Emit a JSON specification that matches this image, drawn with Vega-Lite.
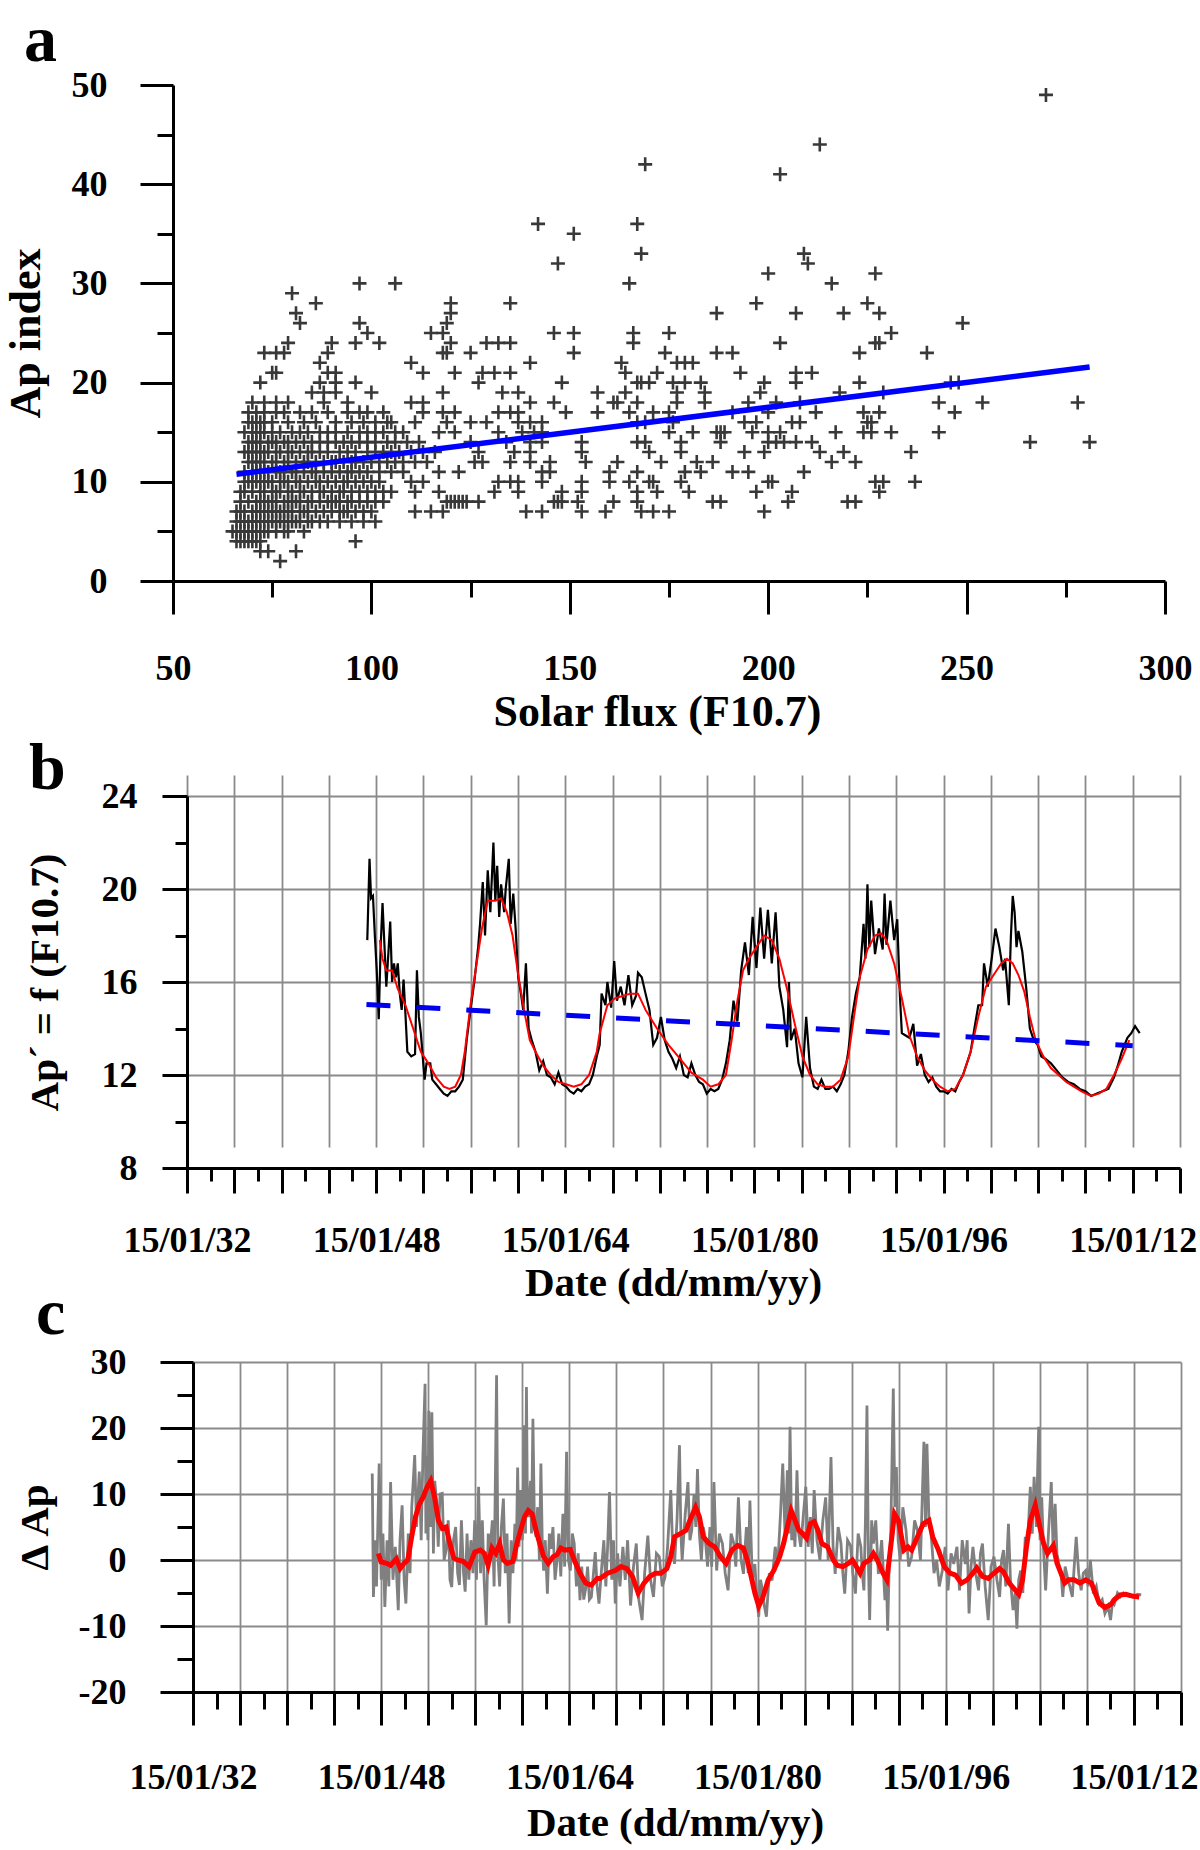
{
"$schema": "https://vega.github.io/schema/vega-lite/v6.json",
"autosize": {"type": "none"},
"padding": {"left": 173, "top": 85, "right": 1027, "bottom": 1765},
"background": "white",
"config": {
 "view": {"stroke": null},
 "font": "Liberation Serif",
 "axis": {"labelFont": "Liberation Serif", "labelFontWeight": "bold", "labelFontSize": 36, "labelColor": "black", "titleFont": "Liberation Serif", "titleFontWeight": "bold", "titleColor": "black", "domainColor": "black", "domainWidth": 3, "tickColor": "black", "tickWidth": 3, "gridColor": "#8a8a8a", "gridWidth": 1.8, "gridOpacity": 1, "labelFlush": false, "labelOverlap": false},
 "title": {"font": "Liberation Serif", "fontWeight": "bold", "color": "black"}
},
"datasets": {
 "scatter": [
{"f":77,"ap":2},
{"f":72,"ap":3},{"f":74,"ap":3},{"f":81,"ap":3},
{"f":66,"ap":4},{"f":67,"ap":4},{"f":68,"ap":4},{"f":69,"ap":4},{"f":70,"ap":4},{"f":71,"ap":4},{"f":72,"ap":4},{"f":96,"ap":4},
{"f":65,"ap":5},{"f":66,"ap":5},{"f":67,"ap":5},{"f":68,"ap":5},{"f":69,"ap":5},{"f":70,"ap":5},{"f":71,"ap":5},{"f":72,"ap":5},{"f":73,"ap":5},{"f":74,"ap":5},{"f":76,"ap":5},{"f":78,"ap":5},{"f":79,"ap":5},{"f":83,"ap":5},
{"f":66,"ap":6},{"f":67,"ap":6},{"f":68,"ap":6},{"f":69,"ap":6},{"f":70,"ap":6},{"f":71,"ap":6},{"f":72,"ap":6},{"f":73,"ap":6},{"f":74,"ap":6},{"f":75,"ap":6},{"f":76,"ap":6},{"f":77,"ap":6},{"f":78,"ap":6},{"f":79,"ap":6},{"f":80,"ap":6},{"f":81,"ap":6},{"f":82,"ap":6},{"f":84,"ap":6},{"f":85,"ap":6},{"f":87,"ap":6},{"f":89,"ap":6},{"f":92,"ap":6},{"f":95,"ap":6},{"f":98,"ap":6},{"f":101,"ap":6},
{"f":66,"ap":7},{"f":67,"ap":7},{"f":68,"ap":7},{"f":70,"ap":7},{"f":71,"ap":7},{"f":72,"ap":7},{"f":73,"ap":7},{"f":74,"ap":7},{"f":75,"ap":7},{"f":76,"ap":7},{"f":77,"ap":7},{"f":78,"ap":7},{"f":79,"ap":7},{"f":80,"ap":7},{"f":82,"ap":7},{"f":83,"ap":7},{"f":84,"ap":7},{"f":86,"ap":7},{"f":88,"ap":7},{"f":90,"ap":7},{"f":92,"ap":7},{"f":93,"ap":7},{"f":94,"ap":7},{"f":96,"ap":7},{"f":98,"ap":7},{"f":100,"ap":7},{"f":111,"ap":7},{"f":115,"ap":7},{"f":118,"ap":7},{"f":139,"ap":7},{"f":143,"ap":7},{"f":153,"ap":7},{"f":159,"ap":7},{"f":168,"ap":7},{"f":171,"ap":7},{"f":175,"ap":7},{"f":199,"ap":7},
{"f":67,"ap":8},{"f":69,"ap":8},{"f":71,"ap":8},{"f":72,"ap":8},{"f":73,"ap":8},{"f":74,"ap":8},{"f":75,"ap":8},{"f":76,"ap":8},{"f":78,"ap":8},{"f":79,"ap":8},{"f":80,"ap":8},{"f":81,"ap":8},{"f":82,"ap":8},{"f":84,"ap":8},{"f":85,"ap":8},{"f":87,"ap":8},{"f":89,"ap":8},{"f":90,"ap":8},{"f":91,"ap":8},{"f":92,"ap":8},{"f":94,"ap":8},{"f":95,"ap":8},{"f":97,"ap":8},{"f":99,"ap":8},{"f":101,"ap":8},{"f":103,"ap":8},{"f":119,"ap":8},{"f":120,"ap":8},{"f":121,"ap":8},{"f":122,"ap":8},{"f":123,"ap":8},{"f":124,"ap":8},{"f":127,"ap":8},{"f":146,"ap":8},{"f":147,"ap":8},{"f":148,"ap":8},{"f":152,"ap":8},{"f":161,"ap":8},{"f":167,"ap":8},{"f":186,"ap":8},{"f":188,"ap":8},{"f":205,"ap":8},{"f":220,"ap":8},{"f":222,"ap":8},
{"f":67,"ap":9},{"f":68,"ap":9},{"f":70,"ap":9},{"f":72,"ap":9},{"f":73,"ap":9},{"f":75,"ap":9},{"f":76,"ap":9},{"f":77,"ap":9},{"f":79,"ap":9},{"f":80,"ap":9},{"f":82,"ap":9},{"f":83,"ap":9},{"f":85,"ap":9},{"f":87,"ap":9},{"f":88,"ap":9},{"f":90,"ap":9},{"f":92,"ap":9},{"f":93,"ap":9},{"f":95,"ap":9},{"f":97,"ap":9},{"f":99,"ap":9},{"f":101,"ap":9},{"f":103,"ap":9},{"f":105,"ap":9},{"f":111,"ap":9},{"f":117,"ap":9},{"f":131,"ap":9},{"f":137,"ap":9},{"f":148,"ap":9},{"f":153,"ap":9},{"f":167,"ap":9},{"f":172,"ap":9},{"f":180,"ap":9},{"f":197,"ap":9},{"f":206,"ap":9},{"f":228,"ap":9},
{"f":68,"ap":10},{"f":69,"ap":10},{"f":70,"ap":10},{"f":71,"ap":10},{"f":72,"ap":10},{"f":73,"ap":10},{"f":74,"ap":10},{"f":75,"ap":10},{"f":77,"ap":10},{"f":78,"ap":10},{"f":79,"ap":10},{"f":81,"ap":10},{"f":82,"ap":10},{"f":84,"ap":10},{"f":86,"ap":10},{"f":87,"ap":10},{"f":89,"ap":10},{"f":91,"ap":10},{"f":93,"ap":10},{"f":94,"ap":10},{"f":96,"ap":10},{"f":98,"ap":10},{"f":100,"ap":10},{"f":102,"ap":10},{"f":110,"ap":10},{"f":113,"ap":10},{"f":132,"ap":10},{"f":135,"ap":10},{"f":137,"ap":10},{"f":143,"ap":10},{"f":153,"ap":10},{"f":160,"ap":10},{"f":165,"ap":10},{"f":170,"ap":10},{"f":171,"ap":10},{"f":178,"ap":10},{"f":200,"ap":10},{"f":201,"ap":10},{"f":227,"ap":10},{"f":229,"ap":10},{"f":237,"ap":10},
{"f":68,"ap":11},{"f":70,"ap":11},{"f":71,"ap":11},{"f":72,"ap":11},{"f":73,"ap":11},{"f":74,"ap":11},{"f":76,"ap":11},{"f":77,"ap":11},{"f":78,"ap":11},{"f":80,"ap":11},{"f":81,"ap":11},{"f":83,"ap":11},{"f":85,"ap":11},{"f":86,"ap":11},{"f":88,"ap":11},{"f":90,"ap":11},{"f":92,"ap":11},{"f":94,"ap":11},{"f":95,"ap":11},{"f":97,"ap":11},{"f":99,"ap":11},{"f":102,"ap":11},{"f":105,"ap":11},{"f":108,"ap":11},{"f":117,"ap":11},{"f":122,"ap":11},{"f":143,"ap":11},{"f":145,"ap":11},{"f":160,"ap":11},{"f":167,"ap":11},{"f":179,"ap":11},{"f":183,"ap":11},{"f":191,"ap":11},{"f":195,"ap":11},{"f":209,"ap":11},
{"f":69,"ap":12},{"f":70,"ap":12},{"f":71,"ap":12},{"f":72,"ap":12},{"f":73,"ap":12},{"f":75,"ap":12},{"f":76,"ap":12},{"f":78,"ap":12},{"f":79,"ap":12},{"f":81,"ap":12},{"f":83,"ap":12},{"f":84,"ap":12},{"f":86,"ap":12},{"f":88,"ap":12},{"f":90,"ap":12},{"f":91,"ap":12},{"f":93,"ap":12},{"f":95,"ap":12},{"f":96,"ap":12},{"f":98,"ap":12},{"f":100,"ap":12},{"f":102,"ap":12},{"f":104,"ap":12},{"f":106,"ap":12},{"f":108,"ap":12},{"f":111,"ap":12},{"f":114,"ap":12},{"f":126,"ap":12},{"f":128,"ap":12},{"f":135,"ap":12},{"f":140,"ap":12},{"f":145,"ap":12},{"f":154,"ap":12},{"f":162,"ap":12},{"f":173,"ap":12},{"f":182,"ap":12},{"f":186,"ap":12},{"f":216,"ap":12},{"f":222,"ap":12},
{"f":68,"ap":13},{"f":69,"ap":13},{"f":70,"ap":13},{"f":71,"ap":13},{"f":72,"ap":13},{"f":73,"ap":13},{"f":74,"ap":13},{"f":76,"ap":13},{"f":77,"ap":13},{"f":79,"ap":13},{"f":80,"ap":13},{"f":82,"ap":13},{"f":84,"ap":13},{"f":85,"ap":13},{"f":87,"ap":13},{"f":89,"ap":13},{"f":92,"ap":13},{"f":94,"ap":13},{"f":96,"ap":13},{"f":99,"ap":13},{"f":101,"ap":13},{"f":103,"ap":13},{"f":105,"ap":13},{"f":107,"ap":13},{"f":110,"ap":13},{"f":113,"ap":13},{"f":116,"ap":13},{"f":127,"ap":13},{"f":136,"ap":13},{"f":140,"ap":13},{"f":153,"ap":13},{"f":170,"ap":13},{"f":178,"ap":13},{"f":194,"ap":13},{"f":199,"ap":13},{"f":213,"ap":13},{"f":219,"ap":13},{"f":236,"ap":13},
{"f":69,"ap":14},{"f":70,"ap":14},{"f":71,"ap":14},{"f":72,"ap":14},{"f":74,"ap":14},{"f":75,"ap":14},{"f":76,"ap":14},{"f":78,"ap":14},{"f":79,"ap":14},{"f":81,"ap":14},{"f":83,"ap":14},{"f":85,"ap":14},{"f":87,"ap":14},{"f":89,"ap":14},{"f":91,"ap":14},{"f":93,"ap":14},{"f":95,"ap":14},{"f":97,"ap":14},{"f":99,"ap":14},{"f":101,"ap":14},{"f":104,"ap":14},{"f":106,"ap":14},{"f":109,"ap":14},{"f":112,"ap":14},{"f":125,"ap":14},{"f":134,"ap":14},{"f":140,"ap":14},{"f":143,"ap":14},{"f":153,"ap":14},{"f":167,"ap":14},{"f":169,"ap":14},{"f":178,"ap":14},{"f":188,"ap":14},{"f":200,"ap":14},{"f":202,"ap":14},{"f":204,"ap":14},{"f":207,"ap":14},{"f":211,"ap":14},{"f":266,"ap":14},{"f":281,"ap":14},
{"f":68,"ap":15},{"f":70,"ap":15},{"f":71,"ap":15},{"f":72,"ap":15},{"f":73,"ap":15},{"f":75,"ap":15},{"f":77,"ap":15},{"f":80,"ap":15},{"f":82,"ap":15},{"f":84,"ap":15},{"f":87,"ap":15},{"f":89,"ap":15},{"f":91,"ap":15},{"f":94,"ap":15},{"f":97,"ap":15},{"f":99,"ap":15},{"f":101,"ap":15},{"f":103,"ap":15},{"f":106,"ap":15},{"f":108,"ap":15},{"f":117,"ap":15},{"f":121,"ap":15},{"f":132,"ap":15},{"f":138,"ap":15},{"f":141,"ap":15},{"f":143,"ap":15},{"f":175,"ap":15},{"f":181,"ap":15},{"f":187,"ap":15},{"f":188,"ap":15},{"f":189,"ap":15},{"f":196,"ap":15},{"f":200,"ap":15},{"f":203,"ap":15},{"f":217,"ap":15},{"f":224,"ap":15},{"f":226,"ap":15},{"f":231,"ap":15},{"f":243,"ap":15},
{"f":69,"ap":16},{"f":70,"ap":16},{"f":71,"ap":16},{"f":72,"ap":16},{"f":73,"ap":16},{"f":75,"ap":16},{"f":79,"ap":16},{"f":83,"ap":16},{"f":86,"ap":16},{"f":91,"ap":16},{"f":95,"ap":16},{"f":98,"ap":16},{"f":101,"ap":16},{"f":104,"ap":16},{"f":105,"ap":16},{"f":111,"ap":16},{"f":119,"ap":16},{"f":125,"ap":16},{"f":129,"ap":16},{"f":137,"ap":16},{"f":140,"ap":16},{"f":143,"ap":16},{"f":167,"ap":16},{"f":169,"ap":16},{"f":176,"ap":16},{"f":194,"ap":16},{"f":197,"ap":16},{"f":206,"ap":16},{"f":208,"ap":16},{"f":225,"ap":16},{"f":226,"ap":16},
{"f":69,"ap":17},{"f":71,"ap":17},{"f":73,"ap":17},{"f":76,"ap":17},{"f":78,"ap":17},{"f":82,"ap":17},{"f":85,"ap":17},{"f":89,"ap":17},{"f":94,"ap":17},{"f":97,"ap":17},{"f":99,"ap":17},{"f":103,"ap":17},{"f":113,"ap":17},{"f":118,"ap":17},{"f":121,"ap":17},{"f":132,"ap":17},{"f":135,"ap":17},{"f":137,"ap":17},{"f":149,"ap":17},{"f":157,"ap":17},{"f":165,"ap":17},{"f":171,"ap":17},{"f":175,"ap":17},{"f":191,"ap":17},{"f":200,"ap":17},{"f":212,"ap":17},{"f":224,"ap":17},{"f":228,"ap":17},{"f":247,"ap":17},
{"f":70,"ap":18},{"f":73,"ap":18},{"f":76,"ap":18},{"f":79,"ap":18},{"f":88,"ap":18},{"f":94,"ap":18},{"f":110,"ap":18},{"f":113,"ap":18},{"f":140,"ap":18},{"f":146,"ap":18},{"f":161,"ap":18},{"f":162,"ap":18},{"f":167,"ap":18},{"f":177,"ap":18},{"f":184,"ap":18},{"f":195,"ap":18},{"f":202,"ap":18},{"f":208,"ap":18},{"f":243,"ap":18},{"f":254,"ap":18},{"f":278,"ap":18},
{"f":85,"ap":19},{"f":88,"ap":19},{"f":91,"ap":19},{"f":100,"ap":19},{"f":118,"ap":19},{"f":133,"ap":19},{"f":137,"ap":19},{"f":157,"ap":19},{"f":164,"ap":19},{"f":177,"ap":19},{"f":184,"ap":19},{"f":198,"ap":19},{"f":218,"ap":19},{"f":229,"ap":19},
{"f":72,"ap":20},{"f":87,"ap":20},{"f":91,"ap":20},{"f":96,"ap":20},{"f":127,"ap":20},{"f":148,"ap":20},{"f":167,"ap":20},{"f":168,"ap":20},{"f":170,"ap":20},{"f":176,"ap":20},{"f":179,"ap":20},{"f":183,"ap":20},{"f":199,"ap":20},{"f":207,"ap":20},{"f":223,"ap":20},{"f":246,"ap":20},{"f":248,"ap":20},
{"f":75,"ap":21},{"f":76,"ap":21},{"f":89,"ap":21},{"f":91,"ap":21},{"f":113,"ap":21},{"f":121,"ap":21},{"f":128,"ap":21},{"f":131,"ap":21},{"f":135,"ap":21},{"f":164,"ap":21},{"f":172,"ap":21},{"f":193,"ap":21},{"f":207,"ap":21},{"f":211,"ap":21},
{"f":87,"ap":22},{"f":110,"ap":22},{"f":140,"ap":22},{"f":163,"ap":22},{"f":177,"ap":22},{"f":179,"ap":22},{"f":181,"ap":22},
{"f":73,"ap":23},{"f":76,"ap":23},{"f":78,"ap":23},{"f":89,"ap":23},{"f":118,"ap":23},{"f":119,"ap":23},{"f":125,"ap":23},{"f":151,"ap":23},{"f":174,"ap":23},{"f":187,"ap":23},{"f":191,"ap":23},{"f":223,"ap":23},{"f":240,"ap":23},
{"f":79,"ap":24},{"f":90,"ap":24},{"f":96,"ap":24},{"f":102,"ap":24},{"f":120,"ap":24},{"f":129,"ap":24},{"f":132,"ap":24},{"f":135,"ap":24},{"f":166,"ap":24},{"f":203,"ap":24},{"f":227,"ap":24},{"f":228,"ap":24},
{"f":99,"ap":25},{"f":115,"ap":25},{"f":118,"ap":25},{"f":146,"ap":25},{"f":151,"ap":25},{"f":166,"ap":25},{"f":175,"ap":25},{"f":231,"ap":25},
{"f":82,"ap":26},{"f":97,"ap":26},{"f":119,"ap":26},{"f":249,"ap":26},
{"f":81,"ap":27},{"f":120,"ap":27},{"f":187,"ap":27},{"f":207,"ap":27},{"f":219,"ap":27},{"f":228,"ap":27},
{"f":86,"ap":28},{"f":120,"ap":28},{"f":135,"ap":28},{"f":197,"ap":28},{"f":225,"ap":28},
{"f":80,"ap":29},
{"f":97,"ap":30},{"f":106,"ap":30},{"f":165,"ap":30},{"f":216,"ap":30},
{"f":200,"ap":31},{"f":227,"ap":31},
{"f":147,"ap":32},{"f":210,"ap":32},
{"f":168,"ap":33},{"f":209,"ap":33},
{"f":151,"ap":35},
{"f":142,"ap":36},{"f":167,"ap":36},
{"f":203,"ap":41},{"f":169,"ap":42},{"f":213,"ap":44},{"f":270,"ap":49}
 ],
 "fit": [{"f":66,"ap":10.76},{"f":281,"ap":21.58}],
 "bblack": [
{"yr":1947.25,"v":17.8},{"yr":1947.44,"v":21.3},{"yr":1947.57,"v":19.6},{"yr":1947.73,"v":19.7},{"yr":1947.89,"v":18.0},{"yr":1948.05,"v":16.5},{"yr":1948.22,"v":14.4},{"yr":1948.38,"v":17.5},{"yr":1948.54,"v":19.4},{"yr":1948.70,"v":17.6},{"yr":1948.86,"v":15.8},{"yr":1949.03,"v":17.2},{"yr":1949.19,"v":18.6},{"yr":1949.35,"v":16.0},{"yr":1949.51,"v":16.8},{"yr":1949.67,"v":16.2},{"yr":1949.83,"v":16.8},{"yr":1950.00,"v":15.5},{"yr":1950.16,"v":14.8},{"yr":1950.32,"v":16.1},{"yr":1950.48,"v":14.6},{"yr":1950.64,"v":13.0},{"yr":1950.97,"v":12.8},{"yr":1951.29,"v":12.9},{"yr":1951.45,"v":16.5},{"yr":1951.61,"v":14.5},{"yr":1951.78,"v":13.8},{"yr":1952.10,"v":11.8},{"yr":1952.26,"v":12.5},{"yr":1952.58,"v":12.5},{"yr":1952.75,"v":11.8},{"yr":1953.07,"v":11.6},{"yr":1953.39,"v":11.4},{"yr":1953.72,"v":11.2},{"yr":1954.04,"v":11.1},{"yr":1954.36,"v":11.3},{"yr":1954.69,"v":11.3},{"yr":1955.01,"v":11.5},{"yr":1955.33,"v":11.8},{"yr":1955.66,"v":13.5},{"yr":1955.98,"v":14.8},{"yr":1956.30,"v":16.0},{"yr":1956.63,"v":17.5},{"yr":1956.79,"v":18.5},{"yr":1957.02,"v":20.3},{"yr":1957.21,"v":18.0},{"yr":1957.44,"v":20.8},{"yr":1957.66,"v":19.0},{"yr":1957.92,"v":22.0},{"yr":1958.08,"v":19.5},{"yr":1958.24,"v":21.0},{"yr":1958.41,"v":18.8},{"yr":1958.57,"v":20.2},{"yr":1958.83,"v":19.0},{"yr":1958.96,"v":20.0},{"yr":1959.22,"v":21.3},{"yr":1959.38,"v":18.5},{"yr":1959.60,"v":19.8},{"yr":1959.80,"v":18.3},{"yr":1960.02,"v":16.2},{"yr":1960.25,"v":15.5},{"yr":1960.44,"v":14.8},{"yr":1960.67,"v":16.8},{"yr":1960.90,"v":14.0},{"yr":1961.16,"v":13.5},{"yr":1961.48,"v":13.0},{"yr":1961.80,"v":12.2},{"yr":1962.13,"v":12.6},{"yr":1962.45,"v":12.0},{"yr":1962.77,"v":11.9},{"yr":1963.10,"v":11.6},{"yr":1963.42,"v":12.1},{"yr":1963.74,"v":11.6},{"yr":1964.07,"v":11.5},{"yr":1964.39,"v":11.3},{"yr":1964.71,"v":11.2},{"yr":1965.04,"v":11.4},{"yr":1965.36,"v":11.3},{"yr":1965.68,"v":11.5},{"yr":1966.01,"v":11.6},{"yr":1966.33,"v":12.0},{"yr":1966.66,"v":12.8},{"yr":1966.91,"v":13.3},{"yr":1967.07,"v":15.5},{"yr":1967.40,"v":15.0},{"yr":1967.56,"v":16.0},{"yr":1967.88,"v":14.9},{"yr":1968.14,"v":16.9},{"yr":1968.37,"v":15.2},{"yr":1968.69,"v":15.8},{"yr":1969.01,"v":15.0},{"yr":1969.34,"v":16.3},{"yr":1969.66,"v":15.0},{"yr":1969.98,"v":15.4},{"yr":1970.15,"v":16.4},{"yr":1970.47,"v":16.2},{"yr":1970.79,"v":15.5},{"yr":1971.12,"v":14.8},{"yr":1971.44,"v":13.3},{"yr":1971.76,"v":13.6},{"yr":1972.09,"v":14.5},{"yr":1972.41,"v":13.5},{"yr":1972.73,"v":13.0},{"yr":1973.06,"v":12.7},{"yr":1973.38,"v":12.3},{"yr":1973.70,"v":12.8},{"yr":1974.03,"v":12.0},{"yr":1974.35,"v":11.9},{"yr":1974.67,"v":12.5},{"yr":1975.00,"v":12.0},{"yr":1975.32,"v":11.7},{"yr":1975.64,"v":11.6},{"yr":1975.97,"v":11.2},{"yr":1976.29,"v":11.4},{"yr":1976.62,"v":11.3},{"yr":1976.94,"v":11.4},{"yr":1977.26,"v":11.8},{"yr":1977.59,"v":12.5},{"yr":1977.91,"v":13.5},{"yr":1978.23,"v":15.2},{"yr":1978.56,"v":14.3},{"yr":1978.88,"v":16.5},{"yr":1979.20,"v":17.7},{"yr":1979.53,"v":16.3},{"yr":1979.85,"v":18.8},{"yr":1980.17,"v":16.6},{"yr":1980.50,"v":19.2},{"yr":1980.82,"v":17.0},{"yr":1981.14,"v":19.1},{"yr":1981.47,"v":16.8},{"yr":1981.79,"v":19.0},{"yr":1981.95,"v":17.5},{"yr":1982.11,"v":15.8},{"yr":1982.44,"v":14.8},{"yr":1982.76,"v":13.2},{"yr":1982.92,"v":16.0},{"yr":1983.09,"v":13.5},{"yr":1983.41,"v":14.0},{"yr":1983.73,"v":12.5},{"yr":1984.06,"v":11.9},{"yr":1984.38,"v":14.5},{"yr":1984.70,"v":12.3},{"yr":1985.03,"v":11.5},{"yr":1985.35,"v":11.4},{"yr":1985.67,"v":11.8},{"yr":1986.00,"v":11.4},{"yr":1986.32,"v":11.4},{"yr":1986.64,"v":11.5},{"yr":1986.97,"v":11.3},{"yr":1987.29,"v":11.6},{"yr":1987.61,"v":12.0},{"yr":1987.94,"v":13.0},{"yr":1988.26,"v":14.5},{"yr":1988.58,"v":15.5},{"yr":1988.91,"v":16.2},{"yr":1989.23,"v":18.5},{"yr":1989.39,"v":17.0},{"yr":1989.56,"v":20.2},{"yr":1989.72,"v":17.5},{"yr":1989.88,"v":19.5},{"yr":1990.20,"v":17.2},{"yr":1990.53,"v":18.3},{"yr":1990.85,"v":17.4},{"yr":1991.01,"v":19.8},{"yr":1991.17,"v":17.6},{"yr":1991.50,"v":19.5},{"yr":1991.82,"v":17.8},{"yr":1992.08,"v":18.7},{"yr":1992.30,"v":15.5},{"yr":1992.47,"v":13.8},{"yr":1992.79,"v":13.7},{"yr":1993.11,"v":13.6},{"yr":1993.44,"v":14.2},{"yr":1993.76,"v":12.4},{"yr":1994.08,"v":12.9},{"yr":1994.41,"v":12.0},{"yr":1994.73,"v":11.7},{"yr":1995.05,"v":11.9},{"yr":1995.38,"v":11.5},{"yr":1995.70,"v":11.3},{"yr":1996.02,"v":11.3},{"yr":1996.35,"v":11.2},{"yr":1996.67,"v":11.4},{"yr":1996.99,"v":11.3},{"yr":1997.32,"v":11.7},{"yr":1997.64,"v":12.0},{"yr":1997.97,"v":12.5},{"yr":1998.29,"v":13.0},{"yr":1998.61,"v":14.0},{"yr":1998.94,"v":15.0},{"yr":1999.26,"v":15.0},{"yr":1999.42,"v":16.8},{"yr":1999.74,"v":15.8},{"yr":2000.07,"v":17.0},{"yr":2000.39,"v":18.3},{"yr":2000.72,"v":17.5},{"yr":2001.04,"v":16.5},{"yr":2001.20,"v":17.0},{"yr":2001.52,"v":15.0},{"yr":2001.69,"v":17.9},{"yr":2001.85,"v":19.7},{"yr":2002.01,"v":19.0},{"yr":2002.17,"v":17.5},{"yr":2002.33,"v":18.2},{"yr":2002.66,"v":17.3},{"yr":2002.98,"v":15.8},{"yr":2003.30,"v":14.0},{"yr":2003.63,"v":13.5},{"yr":2003.95,"v":13.3},{"yr":2004.27,"v":12.8},{"yr":2004.60,"v":12.7},{"yr":2005.08,"v":12.5},{"yr":2005.57,"v":12.2},{"yr":2006.05,"v":11.9},{"yr":2006.54,"v":11.7},{"yr":2007.02,"v":11.6},{"yr":2007.51,"v":11.4},{"yr":2008.00,"v":11.3},{"yr":2008.48,"v":11.1},{"yr":2008.97,"v":11.2},{"yr":2009.45,"v":11.3},{"yr":2009.94,"v":11.4},{"yr":2010.42,"v":11.9},{"yr":2010.74,"v":12.4},{"yr":2011.07,"v":13.0},{"yr":2011.55,"v":13.6},{"yr":2011.88,"v":13.8},{"yr":2012.20,"v":14.1},{"yr":2012.59,"v":13.8}
 ],
 "bred": [
{"yr":1948.31,"v":17.8},{"yr":1948.54,"v":17.0},{"yr":1948.86,"v":16.5},{"yr":1949.35,"v":16.5},{"yr":1949.83,"v":15.7},{"yr":1950.48,"v":15.0},{"yr":1951.13,"v":14.0},{"yr":1951.78,"v":13.0},{"yr":1952.42,"v":12.5},{"yr":1953.07,"v":11.9},{"yr":1953.72,"v":11.5},{"yr":1954.20,"v":11.4},{"yr":1954.69,"v":11.5},{"yr":1955.17,"v":12.0},{"yr":1955.50,"v":13.0},{"yr":1955.98,"v":15.0},{"yr":1956.47,"v":16.7},{"yr":1956.95,"v":18.3},{"yr":1957.44,"v":19.5},{"yr":1958.08,"v":19.5},{"yr":1958.57,"v":19.6},{"yr":1959.06,"v":19.0},{"yr":1959.54,"v":18.0},{"yr":1960.02,"v":16.3},{"yr":1960.51,"v":14.8},{"yr":1961.00,"v":13.5},{"yr":1961.48,"v":13.0},{"yr":1962.13,"v":12.4},{"yr":1962.77,"v":12.0},{"yr":1963.42,"v":11.7},{"yr":1964.07,"v":11.6},{"yr":1964.71,"v":11.5},{"yr":1965.36,"v":11.6},{"yr":1966.01,"v":12.0},{"yr":1966.66,"v":13.0},{"yr":1966.91,"v":13.8},{"yr":1967.56,"v":15.0},{"yr":1968.20,"v":15.3},{"yr":1968.85,"v":15.4},{"yr":1969.50,"v":15.5},{"yr":1970.15,"v":15.5},{"yr":1970.79,"v":14.8},{"yr":1971.76,"v":14.0},{"yr":1972.73,"v":13.3},{"yr":1973.70,"v":12.7},{"yr":1974.67,"v":12.1},{"yr":1975.64,"v":11.8},{"yr":1976.29,"v":11.5},{"yr":1976.94,"v":11.6},{"yr":1977.59,"v":12.0},{"yr":1978.07,"v":13.5},{"yr":1978.56,"v":15.2},{"yr":1979.04,"v":16.5},{"yr":1979.53,"v":17.0},{"yr":1980.17,"v":17.5},{"yr":1980.82,"v":18.0},{"yr":1981.47,"v":17.8},{"yr":1982.11,"v":17.0},{"yr":1982.76,"v":15.7},{"yr":1983.41,"v":14.2},{"yr":1984.06,"v":12.8},{"yr":1984.70,"v":12.0},{"yr":1985.35,"v":11.6},{"yr":1986.00,"v":11.5},{"yr":1986.64,"v":11.5},{"yr":1987.29,"v":11.8},{"yr":1987.94,"v":12.8},{"yr":1988.42,"v":14.5},{"yr":1988.91,"v":16.2},{"yr":1989.56,"v":17.4},{"yr":1990.20,"v":18.0},{"yr":1990.69,"v":18.1},{"yr":1991.17,"v":17.8},{"yr":1991.82,"v":16.8},{"yr":1992.47,"v":15.3},{"yr":1993.11,"v":13.7},{"yr":1993.76,"v":12.8},{"yr":1994.41,"v":12.2},{"yr":1995.05,"v":11.8},{"yr":1995.70,"v":11.5},{"yr":1996.35,"v":11.3},{"yr":1996.99,"v":11.4},{"yr":1997.64,"v":12.0},{"yr":1998.29,"v":13.0},{"yr":1998.94,"v":14.5},{"yr":1999.58,"v":15.8},{"yr":2000.23,"v":16.3},{"yr":2000.88,"v":16.8},{"yr":2001.36,"v":17.0},{"yr":2001.85,"v":16.8},{"yr":2002.33,"v":16.3},{"yr":2002.82,"v":15.6},{"yr":2003.30,"v":14.5},{"yr":2003.79,"v":13.5},{"yr":2004.44,"v":12.8},{"yr":2005.08,"v":12.3},{"yr":2005.73,"v":12.0},{"yr":2006.38,"v":11.7},{"yr":2007.02,"v":11.5},{"yr":2007.67,"v":11.3},{"yr":2008.48,"v":11.1},{"yr":2009.13,"v":11.2},{"yr":2009.77,"v":11.4},{"yr":2010.42,"v":12.0},{"yr":2011.07,"v":12.7},{"yr":2011.71,"v":13.5}
 ],
 "btrend": [{"yr":1947.18,"v":15.03},{"yr":2012.0,"v":13.26}],
 "cgray": [
{"yr":1947.24,"v":13.1},{"yr":1947.34,"v":-5.6},{"yr":1947.5,"v":3},{"yr":1947.6,"v":-4},{"yr":1947.83,"v":14.6},{"yr":1948.0,"v":-3},{"yr":1948.15,"v":4},{"yr":1948.31,"v":-7.1},{"yr":1948.5,"v":3},{"yr":1948.65,"v":-4},{"yr":1948.8,"v":11.8},{"yr":1949.0,"v":-3},{"yr":1949.2,"v":2},{"yr":1949.45,"v":-7.6},{"yr":1949.6,"v":3},{"yr":1949.78,"v":8.3},{"yr":1949.95,"v":-3},{"yr":1950.1,"v":-6.6},{"yr":1950.3,"v":4},{"yr":1950.45,"v":-2},{"yr":1950.6,"v":8},{"yr":1950.85,"v":15.9},{"yr":1951.0,"v":5},{"yr":1951.24,"v":13.4},{"yr":1951.4,"v":3},{"yr":1951.55,"v":16},{"yr":1951.73,"v":26.7},{"yr":1951.8,"v":4},{"yr":1951.89,"v":15.7},{"yr":1951.97,"v":3},{"yr":1952.05,"v":22.6},{"yr":1952.18,"v":5},{"yr":1952.31,"v":22.4},{"yr":1952.44,"v":1},{"yr":1952.55,"v":12},{"yr":1952.7,"v":9},{"yr":1952.85,"v":2},{"yr":1953.0,"v":10},{"yr":1953.19,"v":10.1},{"yr":1953.35,"v":0},{"yr":1953.52,"v":1.5},{"yr":1953.7,"v":6},{"yr":1953.85,"v":-3},{"yr":1954.0,"v":-4.1},{"yr":1954.15,"v":3},{"yr":1954.33,"v":5},{"yr":1954.5,"v":-2},{"yr":1954.65,"v":-3.8},{"yr":1954.82,"v":6},{"yr":1955.0,"v":-2},{"yr":1955.14,"v":-4.8},{"yr":1955.3,"v":4},{"yr":1955.45,"v":-3},{"yr":1955.63,"v":3},{"yr":1955.8,"v":-2},{"yr":1955.95,"v":6},{"yr":1956.1,"v":-3},{"yr":1956.28,"v":11.1},{"yr":1956.45,"v":-2},{"yr":1956.6,"v":6},{"yr":1956.75,"v":-3},{"yr":1956.93,"v":-9.9},{"yr":1957.1,"v":4},{"yr":1957.26,"v":1.5},{"yr":1957.45,"v":6},{"yr":1957.6,"v":-4},{"yr":1957.81,"v":28},{"yr":1957.92,"v":1},{"yr":1958.07,"v":-4},{"yr":1958.22,"v":5},{"yr":1958.39,"v":9.3},{"yr":1958.55,"v":-2},{"yr":1958.7,"v":4},{"yr":1958.88,"v":-9.6},{"yr":1959.05,"v":3},{"yr":1959.2,"v":-2},{"yr":1959.37,"v":5.5},{"yr":1959.48,"v":0},{"yr":1959.6,"v":14},{"yr":1959.72,"v":2},{"yr":1959.86,"v":10.6},{"yr":1960.0,"v":3},{"yr":1960.18,"v":20.4},{"yr":1960.27,"v":4},{"yr":1960.35,"v":26.2},{"yr":1960.43,"v":8},{"yr":1960.51,"v":6.5},{"yr":1960.7,"v":12},{"yr":1960.78,"v":4},{"yr":1960.9,"v":21.4},{"yr":1961.03,"v":5},{"yr":1961.16,"v":3.5},{"yr":1961.3,"v":8},{"yr":1961.45,"v":0},{"yr":1961.58,"v":14.6},{"yr":1961.7,"v":2},{"yr":1961.81,"v":-1.6},{"yr":1961.95,"v":3},{"yr":1962.13,"v":-5.1},{"yr":1962.3,"v":4},{"yr":1962.46,"v":1.7},{"yr":1962.6,"v":5},{"yr":1962.78,"v":-3},{"yr":1962.95,"v":0},{"yr":1963.1,"v":4},{"yr":1963.27,"v":-2.5},{"yr":1963.45,"v":7},{"yr":1963.6,"v":-1},{"yr":1963.76,"v":16.4},{"yr":1963.92,"v":0},{"yr":1964.08,"v":-1.6},{"yr":1964.25,"v":4},{"yr":1964.41,"v":2.5},{"yr":1964.6,"v":-4},{"yr":1964.75,"v":1},{"yr":1964.9,"v":-6.1},{"yr":1965.05,"v":-1},{"yr":1965.22,"v":-6},{"yr":1965.39,"v":-4.3},{"yr":1965.55,"v":-1},{"yr":1965.7,"v":-6},{"yr":1965.87,"v":-5.6},{"yr":1966.05,"v":-2},{"yr":1966.2,"v":1.2},{"yr":1966.36,"v":-4},{"yr":1966.52,"v":-6.6},{"yr":1966.75,"v":-1},{"yr":1966.93,"v":3},{"yr":1967.1,"v":-4},{"yr":1967.25,"v":2},{"yr":1967.41,"v":10.3},{"yr":1967.6,"v":-3},{"yr":1967.75,"v":3},{"yr":1967.9,"v":-6.6},{"yr":1968.1,"v":1},{"yr":1968.3,"v":-4},{"yr":1968.55,"v":2},{"yr":1968.75,"v":-3},{"yr":1968.95,"v":3},{"yr":1969.2,"v":-6.9},{"yr":1969.45,"v":-1},{"yr":1969.69,"v":2.5},{"yr":1969.9,"v":-6},{"yr":1970.18,"v":-9.1},{"yr":1970.4,"v":-2},{"yr":1970.67,"v":3.7},{"yr":1970.9,"v":-3},{"yr":1971.15,"v":-5.6},{"yr":1971.4,"v":1},{"yr":1971.64,"v":0.5},{"yr":1971.9,"v":-4},{"yr":1972.13,"v":-2.6},{"yr":1972.35,"v":2},{"yr":1972.62,"v":10.6},{"yr":1972.78,"v":2},{"yr":1972.94,"v":-0.6},{"yr":1973.15,"v":6},{"yr":1973.36,"v":17.4},{"yr":1973.48,"v":4},{"yr":1973.59,"v":0},{"yr":1973.85,"v":7},{"yr":1974.08,"v":11.8},{"yr":1974.25,"v":3},{"yr":1974.4,"v":4.5},{"yr":1974.6,"v":10},{"yr":1974.75,"v":5},{"yr":1974.89,"v":13.8},{"yr":1975.05,"v":4},{"yr":1975.22,"v":0},{"yr":1975.38,"v":5},{"yr":1975.54,"v":3.5},{"yr":1975.75,"v":-1},{"yr":1975.95,"v":5},{"yr":1976.1,"v":-1},{"yr":1976.29,"v":11.8},{"yr":1976.52,"v":-1.6},{"yr":1976.75,"v":4},{"yr":1977.01,"v":2.5},{"yr":1977.25,"v":-2},{"yr":1977.49,"v":-4.6},{"yr":1977.75,"v":4},{"yr":1977.98,"v":2.5},{"yr":1978.15,"v":-1},{"yr":1978.37,"v":9.5},{"yr":1978.6,"v":0},{"yr":1978.8,"v":-2.1},{"yr":1979.05,"v":5},{"yr":1979.2,"v":-2},{"yr":1979.35,"v":9},{"yr":1979.55,"v":-3},{"yr":1979.77,"v":-0.6},{"yr":1979.95,"v":-6},{"yr":1980.1,"v":-8.6},{"yr":1980.25,"v":-3},{"yr":1980.42,"v":-4.6},{"yr":1980.58,"v":-7},{"yr":1980.75,"v":-8.6},{"yr":1981.0,"v":-2},{"yr":1981.23,"v":-3.1},{"yr":1981.5,"v":2},{"yr":1981.72,"v":-0.6},{"yr":1981.95,"v":7},{"yr":1982.14,"v":14.6},{"yr":1982.35,"v":3},{"yr":1982.53,"v":13.6},{"yr":1982.65,"v":4},{"yr":1982.76,"v":20.2},{"yr":1982.9,"v":3},{"yr":1983.02,"v":6.5},{"yr":1983.18,"v":2},{"yr":1983.35,"v":13.6},{"yr":1983.5,"v":4},{"yr":1983.67,"v":2},{"yr":1983.9,"v":7},{"yr":1984.1,"v":11.1},{"yr":1984.3,"v":2},{"yr":1984.49,"v":6.5},{"yr":1984.65,"v":1},{"yr":1984.81,"v":10.6},{"yr":1985.05,"v":3},{"yr":1985.3,"v":0},{"yr":1985.55,"v":6},{"yr":1985.79,"v":9.5},{"yr":1986.0,"v":0},{"yr":1986.24,"v":15.6},{"yr":1986.42,"v":2},{"yr":1986.6,"v":-2.1},{"yr":1986.85,"v":5},{"yr":1987.09,"v":2.5},{"yr":1987.25,"v":-2},{"yr":1987.41,"v":-5.1},{"yr":1987.65,"v":3},{"yr":1987.9,"v":2.2},{"yr":1988.1,"v":-2},{"yr":1988.32,"v":-5.1},{"yr":1988.55,"v":4},{"yr":1988.78,"v":2},{"yr":1988.9,"v":-2},{"yr":1989.04,"v":-4.6},{"yr":1989.17,"v":6},{"yr":1989.3,"v":23.4},{"yr":1989.42,"v":0},{"yr":1989.53,"v":-9.1},{"yr":1989.7,"v":6},{"yr":1989.85,"v":2.5},{"yr":1990.05,"v":6},{"yr":1990.27,"v":-2.1},{"yr":1990.55,"v":3},{"yr":1990.83,"v":-6.1},{"yr":1990.95,"v":-2},{"yr":1991.06,"v":-10.7},{"yr":1991.2,"v":0},{"yr":1991.32,"v":3.5},{"yr":1991.43,"v":15},{"yr":1991.54,"v":26},{"yr":1991.67,"v":8},{"yr":1991.8,"v":14.1},{"yr":1991.95,"v":3},{"yr":1992.13,"v":0},{"yr":1992.35,"v":8},{"yr":1992.62,"v":4.5},{"yr":1992.85,"v":-1},{"yr":1993.1,"v":0.5},{"yr":1993.35,"v":6},{"yr":1993.59,"v":4.5},{"yr":1993.85,"v":0},{"yr":1994.14,"v":17.9},{"yr":1994.28,"v":5},{"yr":1994.4,"v":17.6},{"yr":1994.57,"v":6},{"yr":1994.73,"v":4.5},{"yr":1995.0,"v":-2},{"yr":1995.22,"v":0},{"yr":1995.45,"v":-4},{"yr":1995.71,"v":-1.6},{"yr":1995.95,"v":2},{"yr":1996.19,"v":-4.6},{"yr":1996.45,"v":1},{"yr":1996.68,"v":-0.6},{"yr":1996.95,"v":2},{"yr":1997.17,"v":-4.6},{"yr":1997.4,"v":3},{"yr":1997.66,"v":-0.6},{"yr":1997.82,"v":3},{"yr":1997.98,"v":-8.1},{"yr":1998.15,"v":-1},{"yr":1998.31,"v":2},{"yr":1998.55,"v":-2},{"yr":1998.79,"v":-4.6},{"yr":1998.95,"v":1},{"yr":1999.12,"v":2.5},{"yr":1999.35,"v":-4},{"yr":1999.61,"v":-9.1},{"yr":1999.85,"v":-1},{"yr":2000.1,"v":0.5},{"yr":2000.35,"v":-3},{"yr":2000.58,"v":-5.6},{"yr":2000.75,"v":0},{"yr":2000.91,"v":1.5},{"yr":2001.1,"v":-4},{"yr":2001.33,"v":5.5},{"yr":2001.5,"v":-3},{"yr":2001.72,"v":-7.6},{"yr":2001.9,"v":-5},{"yr":2002.05,"v":-10.4},{"yr":2002.2,"v":-3},{"yr":2002.37,"v":-1.6},{"yr":2002.55,"v":-5},{"yr":2002.76,"v":3.5},{"yr":2002.95,"v":2},{"yr":2003.19,"v":11.1},{"yr":2003.35,"v":4},{"yr":2003.51,"v":12.6},{"yr":2003.7,"v":5},{"yr":2003.9,"v":20.2},{"yr":2004.02,"v":3},{"yr":2004.16,"v":9.5},{"yr":2004.3,"v":2},{"yr":2004.49,"v":-4.6},{"yr":2004.7,"v":3},{"yr":2004.97,"v":11.8},{"yr":2005.12,"v":2},{"yr":2005.3,"v":8.5},{"yr":2005.45,"v":1},{"yr":2005.62,"v":-0.6},{"yr":2005.8,"v":-2},{"yr":2005.95,"v":-5.6},{"yr":2006.15,"v":-1},{"yr":2006.34,"v":-2.6},{"yr":2006.55,"v":-4},{"yr":2006.76,"v":-5.6},{"yr":2006.92,"v":-1},{"yr":2007.09,"v":3.5},{"yr":2007.3,"v":-2},{"yr":2007.51,"v":-4.6},{"yr":2007.7,"v":-2},{"yr":2007.9,"v":-1.6},{"yr":2008.1,"v":-4},{"yr":2008.29,"v":0},{"yr":2008.55,"v":-5.1},{"yr":2008.8,"v":-4},{"yr":2009.04,"v":-6.6},{"yr":2009.3,"v":-6},{"yr":2009.53,"v":-8.1},{"yr":2009.8,"v":-7},{"yr":2010.01,"v":-9.1},{"yr":2010.2,"v":-6},{"yr":2010.34,"v":-6.6},{"yr":2010.6,"v":-5},{"yr":2010.83,"v":-5.6},{"yr":2011.1,"v":-5},{"yr":2011.31,"v":-5.3},{"yr":2011.65,"v":-5.5},{"yr":2011.97,"v":-5.6},{"yr":2012.3,"v":-5.2},{"yr":2012.62,"v":-5.3}
 ],
 "cred": [
{"yr":1947.76,"v":1.0},{"yr":1947.99,"v":-0.3},{"yr":1948.48,"v":-0.5},{"yr":1948.80,"v":-0.8},{"yr":1949.29,"v":0.2},{"yr":1949.61,"v":-1.3},{"yr":1949.94,"v":-0.5},{"yr":1950.26,"v":0.0},{"yr":1950.59,"v":3.5},{"yr":1950.91,"v":6.5},{"yr":1951.24,"v":8.5},{"yr":1951.56,"v":9.5},{"yr":1951.89,"v":11.0},{"yr":1952.21,"v":12.0},{"yr":1952.54,"v":9.5},{"yr":1952.87,"v":6.0},{"yr":1953.19,"v":4.8},{"yr":1953.52,"v":5.0},{"yr":1953.84,"v":2.5},{"yr":1954.17,"v":0.3},{"yr":1954.49,"v":0.0},{"yr":1954.98,"v":-0.2},{"yr":1955.47,"v":-1.0},{"yr":1955.96,"v":1.2},{"yr":1956.44,"v":1.5},{"yr":1956.77,"v":1.0},{"yr":1957.09,"v":-0.8},{"yr":1957.42,"v":1.8},{"yr":1957.74,"v":1.0},{"yr":1958.07,"v":2.5},{"yr":1958.39,"v":0.0},{"yr":1958.72,"v":-0.5},{"yr":1959.21,"v":-0.2},{"yr":1959.53,"v":2.5},{"yr":1959.86,"v":4.5},{"yr":1960.18,"v":6.5},{"yr":1960.51,"v":7.5},{"yr":1960.83,"v":7.0},{"yr":1961.16,"v":4.5},{"yr":1961.48,"v":2.5},{"yr":1961.81,"v":0.5},{"yr":1962.20,"v":-0.5},{"yr":1962.62,"v":0.5},{"yr":1962.95,"v":0.8},{"yr":1963.27,"v":1.8},{"yr":1963.60,"v":1.5},{"yr":1964.08,"v":1.6},{"yr":1964.41,"v":0.0},{"yr":1964.90,"v":-2.0},{"yr":1965.39,"v":-3.5},{"yr":1965.87,"v":-3.8},{"yr":1966.36,"v":-2.8},{"yr":1966.60,"v":-2.8},{"yr":1967.25,"v":-2.0},{"yr":1967.90,"v":-1.6},{"yr":1968.39,"v":-1.0},{"yr":1968.88,"v":-1.3},{"yr":1969.36,"v":-2.5},{"yr":1969.85,"v":-5.0},{"yr":1970.34,"v":-3.5},{"yr":1970.83,"v":-2.5},{"yr":1971.32,"v":-2.0},{"yr":1971.80,"v":-2.0},{"yr":1972.29,"v":-1.3},{"yr":1972.62,"v":0.5},{"yr":1972.94,"v":3.5},{"yr":1973.43,"v":4.0},{"yr":1973.92,"v":4.5},{"yr":1974.24,"v":6.0},{"yr":1974.73,"v":8.0},{"yr":1975.06,"v":6.5},{"yr":1975.38,"v":3.5},{"yr":1975.87,"v":2.5},{"yr":1976.36,"v":2.0},{"yr":1976.84,"v":0.5},{"yr":1977.33,"v":-0.5},{"yr":1977.82,"v":1.5},{"yr":1978.31,"v":2.2},{"yr":1978.80,"v":1.8},{"yr":1979.12,"v":0.0},{"yr":1979.45,"v":-2.5},{"yr":1979.77,"v":-5.0},{"yr":1980.10,"v":-7.0},{"yr":1980.42,"v":-5.8},{"yr":1980.91,"v":-3.0},{"yr":1981.40,"v":-1.5},{"yr":1981.88,"v":0.5},{"yr":1982.21,"v":2.5},{"yr":1982.53,"v":5.0},{"yr":1982.86,"v":7.5},{"yr":1983.19,"v":6.0},{"yr":1983.51,"v":4.5},{"yr":1983.84,"v":4.0},{"yr":1984.16,"v":3.3},{"yr":1984.49,"v":5.5},{"yr":1984.81,"v":5.8},{"yr":1985.14,"v":4.5},{"yr":1985.46,"v":2.5},{"yr":1985.95,"v":2.0},{"yr":1986.44,"v":0.0},{"yr":1986.76,"v":-0.8},{"yr":1987.25,"v":-1.0},{"yr":1987.74,"v":-0.5},{"yr":1988.06,"v":0.0},{"yr":1988.39,"v":-1.0},{"yr":1988.71,"v":-2.0},{"yr":1989.04,"v":-0.5},{"yr":1989.53,"v":0.0},{"yr":1989.85,"v":1.0},{"yr":1990.18,"v":0.0},{"yr":1990.66,"v":-2.0},{"yr":1990.99,"v":-3.0},{"yr":1991.32,"v":2.0},{"yr":1991.64,"v":7.0},{"yr":1991.97,"v":6.0},{"yr":1992.45,"v":1.5},{"yr":1992.78,"v":2.0},{"yr":1993.10,"v":1.5},{"yr":1993.59,"v":3.5},{"yr":1994.08,"v":5.5},{"yr":1994.57,"v":6.0},{"yr":1994.89,"v":3.5},{"yr":1995.38,"v":1.5},{"yr":1995.87,"v":-1.0},{"yr":1996.36,"v":-2.0},{"yr":1996.84,"v":-2.3},{"yr":1997.33,"v":-3.5},{"yr":1997.82,"v":-3.0},{"yr":1998.31,"v":-2.0},{"yr":1998.63,"v":-1.2},{"yr":1999.12,"v":-2.5},{"yr":1999.61,"v":-2.8},{"yr":2000.10,"v":-2.0},{"yr":2000.58,"v":-1.3},{"yr":2000.91,"v":-1.8},{"yr":2001.40,"v":-3.5},{"yr":2001.88,"v":-4.5},{"yr":2002.21,"v":-5.2},{"yr":2002.53,"v":-3.0},{"yr":2002.86,"v":2.0},{"yr":2003.19,"v":6.0},{"yr":2003.61,"v":8.3},{"yr":2004.00,"v":5.0},{"yr":2004.32,"v":2.5},{"yr":2004.65,"v":1.0},{"yr":2005.14,"v":2.2},{"yr":2005.46,"v":-0.5},{"yr":2005.79,"v":-2.0},{"yr":2006.11,"v":-3.5},{"yr":2006.44,"v":-3.0},{"yr":2006.92,"v":-3.0},{"yr":2007.41,"v":-3.5},{"yr":2007.90,"v":-3.0},{"yr":2008.39,"v":-3.5},{"yr":2008.71,"v":-5.0},{"yr":2009.04,"v":-6.5},{"yr":2009.53,"v":-7.2},{"yr":2010.01,"v":-6.8},{"yr":2010.34,"v":-6.0},{"yr":2010.83,"v":-5.3},{"yr":2011.31,"v":-5.2},{"yr":2011.97,"v":-5.5},{"yr":2012.45,"v":-5.6}
 ]
},
"bounds": "flush",
"spacing": 194,
"vconcat": [
 {
  "width": 992, "height": 496,
  "title": {"text": "a", "anchor": "start", "frame": "group", "fontSize": 66, "baseline": "alphabetic", "offset": -60, "dx": -149},
  "layer": [
   {"data": {"name": "scatter"},
    "mark": {"type": "point", "shape": "M-1,0L1,0M0,-1L0,1", "size": 196, "strokeWidth": 2.6, "color": "#383838", "filled": false, "opacity": 1},
    "encoding": {
     "x": {"field": "f", "type": "quantitative", "scale": {"domain": [50, 300], "nice": false, "zero": false},
       "axis": {"orient": "bottom", "values": [50, 100, 150, 200, 250, 300], "tickSize": 33, "labelPadding": 54, "labelBaseline": "middle", "grid": false, "title": "Solar flux (F10.7)", "titleFontSize": 44, "titleX": 484, "titleY": 131, "titleBaseline": "middle", "titleAlign": "center"}},
     "y": {"field": "ap", "type": "quantitative", "scale": {"domain": [0, 50], "nice": false, "zero": false},
       "axis": {"orient": "left", "values": [0, 10, 20, 30, 40, 50], "tickSize": 33, "labelPadding": 33, "grid": false, "title": "Ap index", "titleFontSize": 44, "titleX": -147, "titleBaseline": "middle", "titleAlign": "center", "titleAngle": -90}}
    }},
   {"data": {"name": "fit"},
    "mark": {"type": "line", "color": "#0000ff", "strokeWidth": 5.5},
    "encoding": {
     "x": {"field": "f", "type": "quantitative", "scale": {"domain": [50, 300], "nice": false, "zero": false},
       "axis": {"orient": "bottom", "values": [75, 125, 175, 225, 275], "tickSize": 16, "labels": false, "domain": false, "grid": false, "title": null}},
     "y": {"field": "ap", "type": "quantitative", "scale": {"domain": [0, 50], "nice": false, "zero": false},
       "axis": {"orient": "left", "values": [5, 15, 25, 35, 45], "tickSize": 16, "labels": false, "domain": false, "grid": false, "title": null}}
    }}
  ],
  "resolve": {"axis": {"x": "independent", "y": "independent"}}
 },
 {
  "width": 1007, "height": 393,
  "title": {"text": "b", "anchor": "start", "frame": "group", "fontSize": 66, "baseline": "alphabetic", "offset": -80, "dx": -144},
  "layer": [
   {"data": {"name": "bblack"},
    "mark": {"type": "line", "color": "#000000", "strokeWidth": 2.2},
    "encoding": {
     "x": {"field": "yr", "type": "quantitative", "scale": {"domain": [1932, 2016], "range": [14, 1007], "nice": false, "zero": false},
       "axis": {"orient": "bottom", "values": [1932,1936,1940,1944,1948,1952,1956,1960,1964,1968,1972,1976,1980,1984,1988,1992,1996,2000,2004,2008,2012,2016], "tickSize": 25, "labelPadding": 47, "labelBaseline": "middle", "grid": true, "labelExpr": "datum.value % 16 == 12 ? '15/01/' + slice('0' + (datum.value % 100), -2) : ''", "title": "Date (dd/mm/yy)", "titleFontSize": 41, "titleX": 500, "titleY": 115, "titleBaseline": "middle", "titleAlign": "center"}},
     "y": {"field": "v", "type": "quantitative", "scale": {"domain": [8, 24], "range": [393, 21], "nice": false, "zero": false},
       "axis": {"orient": "left", "offset": -14, "values": [8, 12, 16, 20, 24], "tickSize": 25, "labelPadding": 25, "grid": true, "labelExpr": "'' + datum.value", "title": "Ap´ = f (F10.7)", "titleFontSize": 41, "titleX": -142, "titleBaseline": "middle", "titleAlign": "center", "titleAngle": -90}}
    }},
   {"data": {"name": "bred"},
    "mark": {"type": "line", "color": "#ff0000", "strokeWidth": 2},
    "encoding": {
     "x": {"field": "yr", "type": "quantitative", "scale": {"domain": [1932, 2016], "range": [14, 1007], "nice": false, "zero": false},
       "axis": {"orient": "bottom", "values": [1934,1938,1942,1946,1950,1954,1958,1962,1966,1970,1974,1978,1982,1986,1990,1994,1998,2002,2006,2010,2014], "tickSize": 13, "labels": false, "domain": false, "grid": false, "title": null}},
     "y": {"field": "v", "type": "quantitative", "scale": {"domain": [8, 24], "range": [393, 21], "nice": false, "zero": false},
       "axis": {"orient": "left", "offset": -14, "values": [10, 14, 18, 22], "tickSize": 12, "labels": false, "domain": false, "grid": false, "title": null}}
    }},
   {"data": {"name": "btrend"},
    "mark": {"type": "line", "color": "#0000ee", "strokeWidth": 5, "strokeDash": [24, 26]},
    "encoding": {
     "x": {"field": "yr", "type": "quantitative", "scale": {"domain": [1932, 2016], "range": [14, 1007], "nice": false, "zero": false}, "axis": null},
     "y": {"field": "v", "type": "quantitative", "scale": {"domain": [8, 24], "range": [393, 21], "nice": false, "zero": false}, "axis": null}
    }}
  ],
  "resolve": {"axis": {"x": "independent", "y": "independent"}}
 },
 {
  "width": 1008, "height": 330,
  "title": {"text": "c", "anchor": "start", "frame": "group", "fontSize": 66, "baseline": "alphabetic", "offset": -56, "dx": -137},
  "layer": [
   {"data": {"name": "cgray"},
    "mark": {"type": "line", "color": "#808080", "strokeWidth": 2.8},
    "encoding": {
     "x": {"field": "yr", "type": "quantitative", "scale": {"domain": [1932, 2016], "range": [20, 1008], "nice": false, "zero": false},
       "axis": {"orient": "bottom", "values": [1932,1936,1940,1944,1948,1952,1956,1960,1964,1968,1972,1976,1980,1984,1988,1992,1996,2000,2004,2008,2012,2016], "tickSize": 33, "labelPadding": 52, "labelBaseline": "middle", "grid": true, "labelExpr": "datum.value % 16 == 12 ? '15/01/' + slice('0' + (datum.value % 100), -2) : ''", "title": "Date (dd/mm/yy)", "titleFontSize": 41, "titleX": 502, "titleY": 131, "titleBaseline": "middle", "titleAlign": "center"}},
     "y": {"field": "v", "type": "quantitative", "scale": {"domain": [-20, 30], "nice": false, "zero": false},
       "axis": {"orient": "left", "offset": -20, "values": [-20, -10, 0, 10, 20, 30], "tickSize": 33, "labelPadding": 34, "grid": true, "labelExpr": "'' + datum.value", "title": "Δ Ap", "titleFontSize": 41, "titleX": -158, "titleBaseline": "middle", "titleAlign": "center", "titleAngle": -90}}
    }},
   {"data": {"name": "cred"},
    "mark": {"type": "line", "color": "#ff0000", "strokeWidth": 5},
    "encoding": {
     "x": {"field": "yr", "type": "quantitative", "scale": {"domain": [1932, 2016], "range": [20, 1008], "nice": false, "zero": false},
       "axis": {"orient": "bottom", "values": [1934,1938,1942,1946,1950,1954,1958,1962,1966,1970,1974,1978,1982,1986,1990,1994,1998,2002,2006,2010,2014], "tickSize": 17, "labels": false, "domain": false, "grid": false, "title": null}},
     "y": {"field": "v", "type": "quantitative", "scale": {"domain": [-20, 30], "nice": false, "zero": false},
       "axis": {"orient": "left", "offset": -20, "values": [-15, -5, 5, 15, 25], "tickSize": 16, "labels": false, "domain": false, "grid": false, "title": null}}
    }}
  ],
  "resolve": {"axis": {"x": "independent", "y": "independent"}}
 }
]
}
